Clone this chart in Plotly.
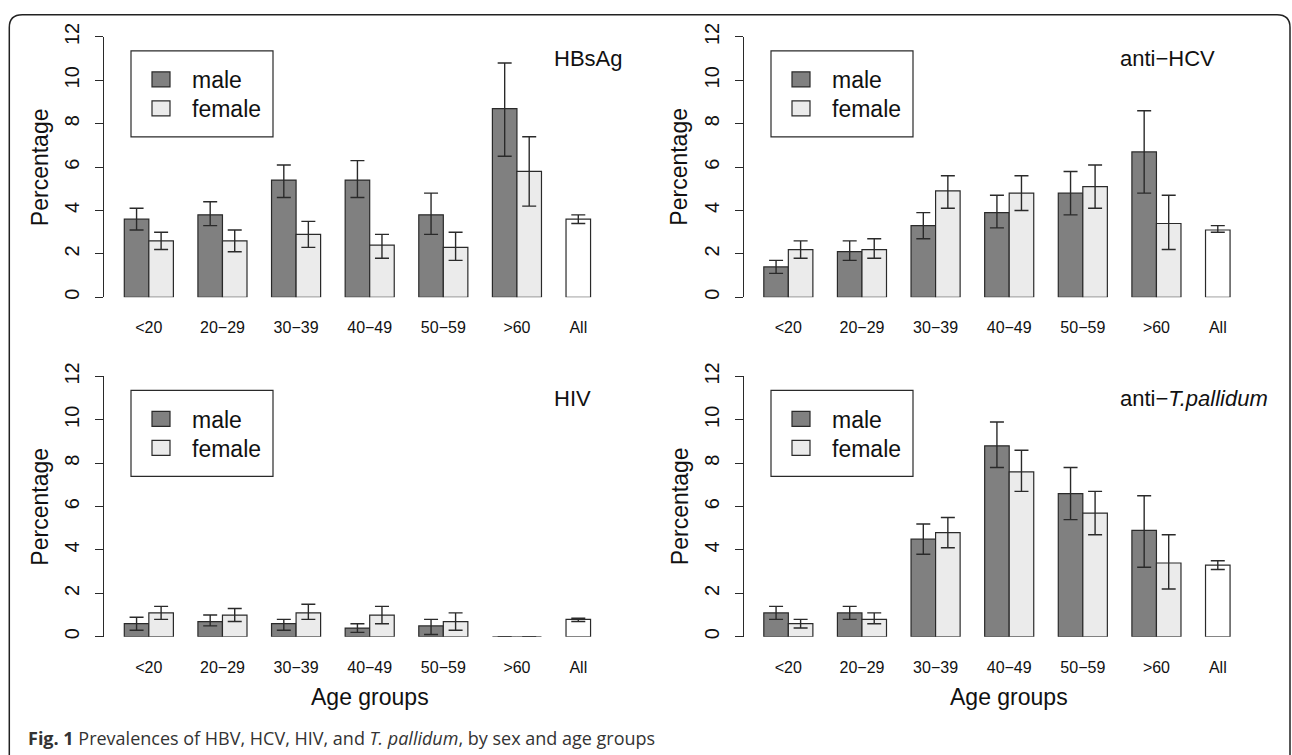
import plotly.graph_objects as go

W, H = 1292, 755

age_groups = ["<20", "20\u221229", "30\u221239", "40\u221249", "50\u221259", ">60"]
all_label = "All"
panel_names = ["HBsAg", "anti\u2212HCV", "HIV", "anti\u2212<i>T.pallidum</i>"]

hbsag_male = [3.6, 3.8, 5.4, 5.4, 3.8, 8.7]
hbsag_male_lo = [3.1, 3.3, 4.6, 4.6, 2.9, 6.5]
hbsag_male_hi = [4.1, 4.4, 6.1, 6.3, 4.8, 10.8]
hbsag_female = [2.6, 2.6, 2.9, 2.4, 2.3, 5.8]
hbsag_female_lo = [2.2, 2.1, 2.3, 1.8, 1.7, 4.2]
hbsag_female_hi = [3.0, 3.1, 3.5, 2.9, 3.0, 7.4]
hbsag_all = [3.6, 3.4, 3.8]

hcv_male = [1.4, 2.1, 3.3, 3.9, 4.8, 6.7]
hcv_male_lo = [1.1, 1.7, 2.7, 3.2, 3.8, 4.8]
hcv_male_hi = [1.7, 2.6, 3.9, 4.7, 5.8, 8.6]
hcv_female = [2.2, 2.2, 4.9, 4.8, 5.1, 3.4]
hcv_female_lo = [1.8, 1.8, 4.1, 4.0, 4.1, 2.2]
hcv_female_hi = [2.6, 2.7, 5.6, 5.6, 6.1, 4.7]
hcv_all = [3.1, 3.0, 3.3]

hiv_male = [0.6, 0.7, 0.6, 0.4, 0.5, 0.0]
hiv_male_lo = [0.3, 0.5, 0.3, 0.2, 0.1, None]
hiv_male_hi = [0.9, 1.0, 0.8, 0.6, 0.8, None]
hiv_female = [1.1, 1.0, 1.1, 1.0, 0.7, 0.0]
hiv_female_lo = [0.8, 0.7, 0.8, 0.6, 0.3, None]
hiv_female_hi = [1.4, 1.3, 1.5, 1.4, 1.1, None]
hiv_all = [0.8, 0.7, 0.85]

tp_male = [1.1, 1.1, 4.5, 8.8, 6.6, 4.9]
tp_male_lo = [0.8, 0.8, 3.8, 7.8, 5.4, 3.2]
tp_male_hi = [1.4, 1.4, 5.2, 9.9, 7.8, 6.5]
tp_female = [0.6, 0.8, 4.8, 7.6, 5.7, 3.4]
tp_female_lo = [0.4, 0.6, 4.1, 6.7, 4.7, 2.2]
tp_female_hi = [0.8, 1.1, 5.5, 8.6, 6.7, 4.7]
tp_all = [3.3, 3.1, 3.5]

panels = [
    (hbsag_male, hbsag_male_lo, hbsag_male_hi, hbsag_female, hbsag_female_lo, hbsag_female_hi, hbsag_all),
    (hcv_male, hcv_male_lo, hcv_male_hi, hcv_female, hcv_female_lo, hcv_female_hi, hcv_all),
    (hiv_male, hiv_male_lo, hiv_male_hi, hiv_female, hiv_female_lo, hiv_female_hi, hiv_all),
    (tp_male, tp_male_lo, tp_male_hi, tp_female, tp_female_lo, tp_female_hi, tp_all),
]

MALE_C = "#808080"
FEMALE_C = "#ebebeb"
LINE_C = "#2a2a2a"
FONT = "Liberation Sans, Arial, sans-serif"

# vertical compensation for the capture (content observed at y' = 0.979*y + 13)
VS, VO = 0.979, 13.0

def fx(px):
    return px / W

def fy(py):
    return 1 - ((py - VO) / VS) / H

offsets = [(0, 0), (639.5, 0), (0, 340), (639.5, 340)]
AX_X = 104.3
AX_R = 620
Y0, Y12 = 296.7, 36.0
U0, UPX = 99.76, 24.54
xr = [(AX_X - U0) / UPX, (AX_R - U0) / UPX]

fig = go.Figure()


def errs(vals, lo, hi):
    plus = [None if h is None else round(h - v, 4) for v, h in zip(vals, hi)]
    minus = [None if l is None else round(v - l, 4) for v, l in zip(vals, lo)]
    return plus, minus

n = len(age_groups)
male_x = [1.5 + 3 * i for i in range(n)]
female_x = [2.5 + 3 * i for i in range(n)]
all_x = [3 * n + 1.5]
tick_x = [2 + 3 * i for i in range(n)] + all_x
tick_t = age_groups + [all_label]

layout_axes = {}
shapes = []
annots = []

for k, (m, mlo, mhi, f, flo, fhi, al) in enumerate(panels):
    dx, dy = offsets[k]
    xa = "x" if k == 0 else f"x{k+1}"
    ya = "y" if k == 0 else f"y{k+1}"
    mp, mm = errs(m, mlo, mhi)
    fp, fm = errs(f, flo, fhi)
    eb = dict(type="data", symmetric=False, color=LINE_C, thickness=1.4, width=7)
    fig.add_trace(go.Bar(x=male_x, y=m, width=1, xaxis=xa, yaxis=ya,
                         marker=dict(color=MALE_C, line=dict(color=LINE_C, width=1.2)),
                         error_y=dict(eb, array=mp, arrayminus=mm), showlegend=False, name="male"))
    fig.add_trace(go.Bar(x=female_x, y=f, width=1, xaxis=xa, yaxis=ya,
                         marker=dict(color=FEMALE_C, line=dict(color=LINE_C, width=1.2)),
                         error_y=dict(eb, array=fp, arrayminus=fm), showlegend=False, name="female"))
    fig.add_trace(go.Bar(x=all_x, y=[al[0]], width=1, xaxis=xa, yaxis=ya,
                         marker=dict(color="white", line=dict(color=LINE_C, width=1.2)),
                         error_y=dict(eb, array=[al[2] - al[0]], arrayminus=[al[0] - al[1]]),
                         showlegend=False, name="All"))

    xkey = "xaxis" if k == 0 else f"xaxis{k+1}"
    ykey = "yaxis" if k == 0 else f"yaxis{k+1}"
    layout_axes[xkey] = dict(
        domain=[fx(AX_X + dx), fx(AX_R + dx)], range=xr, anchor=ya,
        showline=False, showgrid=False, zeroline=False,
        tickmode="array", tickvals=tick_x, ticktext=tick_t,
        ticks="outside", ticklen=16, tickcolor="rgba(0,0,0,0)",
        tickfont=dict(family=FONT, size=16, color="#111"),
    )
    layout_axes[ykey] = dict(
        domain=[fy(Y0 + dy), fy(Y12 + dy)], range=[0, 12], anchor=xa,
        showline=True, linecolor=LINE_C, linewidth=1.2, showgrid=False, zeroline=False,
        tickmode="array", tickvals=[0, 2, 4, 6, 8, 10, 12],
        ticks="outside", ticklen=8, tickwidth=1.2, tickcolor=LINE_C, tickangle=-90,
        ticklabelstandoff=8,
        tickfont=dict(family=FONT, size=20, color="#111"),
    )

    annots.append(dict(x=fx(40 + dx), y=fy(166.4 + dy), xref="paper", yref="paper",
                       text="Percentage", textangle=-90, showarrow=False,
                       font=dict(family=FONT, size=23, color="#111"),
                       xanchor="center", yanchor="middle"))
    lx = 551.5 if dx == 0 else 1118
    annots.append(dict(x=fx(lx), y=fy(58 + dy), xref="paper", yref="paper",
                       text=panel_names[k], showarrow=False,
                       font=dict(family=FONT, size=22, color="#111"),
                       xanchor="left", yanchor="middle"))
    ldx = 0 if dx == 0 else 640
    shapes.append(dict(type="rect", xref="paper", yref="paper",
                       x0=fx(131 + ldx), x1=fx(273 + ldx), y0=fy(50 + dy), y1=fy(136 + dy),
                       line=dict(color=LINE_C, width=1.2), fillcolor="white"))
    for lab, col, ky in (("male", MALE_C, 71), ("female", FEMALE_C, 100)):
        shapes.append(dict(type="rect", xref="paper", yref="paper",
                           x0=fx(152 + ldx), x1=fx(170 + ldx), y0=fy(ky + dy), y1=fy(ky + 15 + dy),
                           line=dict(color=LINE_C, width=1.2), fillcolor=col))
        annots.append(dict(x=fx(190 + ldx), y=fy(ky + 8.5 + dy), xref="paper", yref="paper",
                           text=lab, showarrow=False,
                           font=dict(family=FONT, size=23, color="#111"),
                           xanchor="left", yanchor="middle"))

for cx in (370, 1009):
    annots.append(dict(x=fx(cx), y=fy(697), xref="paper", yref="paper",
                       text="Age groups", showarrow=False,
                       font=dict(family=FONT, size=23, color="#111"),
                       xanchor="center", yanchor="middle"))

annots.append(dict(x=fx(26), y=fy(738), xref="paper", yref="paper",
                   text="<b>Fig. 1</b> Prevalences of HBV, HCV, HIV, and <i>T. pallidum</i>, by sex and age groups",
                   showarrow=False, font=dict(family="Open Sans, Noto Sans, sans-serif", size=18, color="#333"),
                   xanchor="left", yanchor="middle"))

# outer rounded border (top edge kept just inside the page)
L, R, rad = 9.3, 1290.0, 13.0
yt = 1 - 0.8 / H
yb = -0.05
ry = rad / H
path = (f"M {fx(L)},{yb} L {fx(L)},{yt - ry} Q {fx(L)},{yt} {fx(L + rad)},{yt} "
        f"L {fx(R - rad)},{yt} Q {fx(R)},{yt} {fx(R)},{yt - ry} L {fx(R)},{yb}")
shapes.append(dict(type="path", xref="paper", yref="paper", path=path,
                   line=dict(color="#222", width=1.5)))

fig.update_layout(
    width=W, height=H, margin=dict(l=0, r=0, t=0, b=0),
    paper_bgcolor="white", plot_bgcolor="white",
    barmode="overlay", showlegend=False,
    shapes=shapes, annotations=annots,
    **layout_axes,
)

post = (
    "document.body.style.margin='0';"
    "document.body.style.overflow='hidden';"
)
fig.write_html("out.html", config={"displayModeBar": False}, post_script=post)
